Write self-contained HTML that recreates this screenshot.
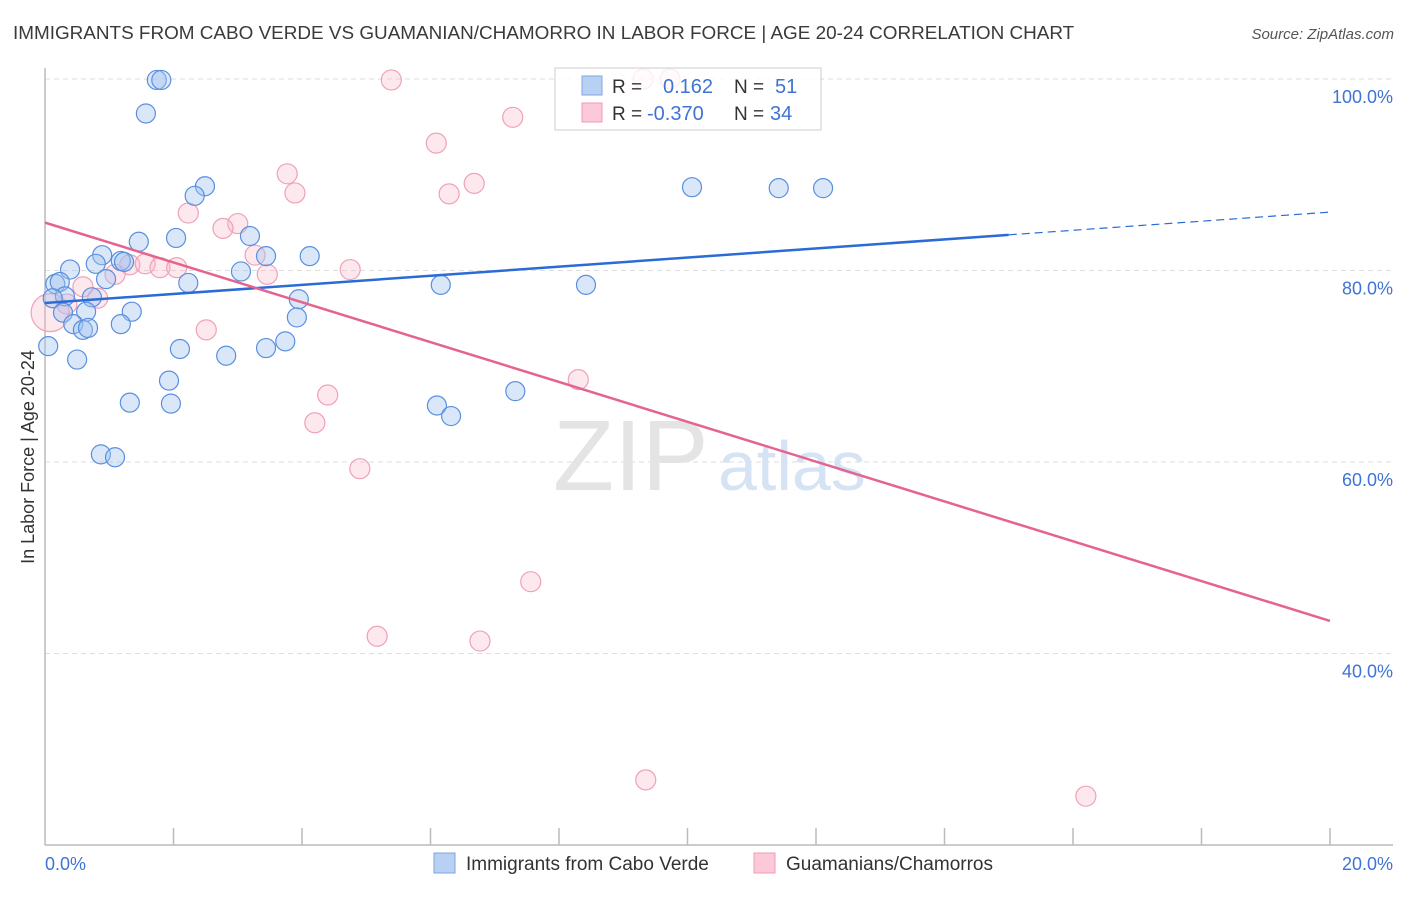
<!DOCTYPE html>
<html><head><meta charset="utf-8"><style>
body{margin:0;background:#fff;font-family:"Liberation Sans",sans-serif;}
svg text{font-family:"Liberation Sans",sans-serif;}
</style></head><body>
<svg id="chart" width="1406" height="892" viewBox="0 0 1406 892" xmlns="http://www.w3.org/2000/svg">
<text x="13" y="39" font-size="18.9" fill="#3a3a3a">IMMIGRANTS FROM CABO VERDE VS GUAMANIAN/CHAMORRO IN LABOR FORCE | AGE 20-24 CORRELATION CHART</text>
<text x="1394" y="39" font-size="15" fill="#555" text-anchor="end" font-style="italic">Source: ZipAtlas.com</text>
<g id="grid"></g>
<text x="553" y="490" font-size="100" fill="#e4e4e4" font-family="Liberation Serif">ZIP</text>
<text x="718" y="490" font-size="70" fill="#d6e3f5">atlas</text>
<line x1="45" y1="68" x2="45" y2="845" stroke="#bbb" stroke-width="1.5"/>
<line x1="45" y1="845" x2="1393" y2="845" stroke="#bbb" stroke-width="1.5"/>
<g id="ticks"></g>
<g id="pts"></g>
<g id="trends"></g>
<text transform="translate(34,457) rotate(-90)" font-size="18" fill="#333" text-anchor="middle">In Labor Force | Age 20-24</text>
<text x="45" y="870" font-size="18" fill="#3f73d4">0.0%</text>
<text x="1393" y="870" font-size="18" fill="#3f73d4" text-anchor="end">20.0%</text>
<g>
<rect x="555" y="68" width="266" height="62" fill="rgba(255,255,255,0.8)" stroke="#ccc"/>
<rect x="582" y="76" width="20" height="19" fill="#b8d1f3" stroke="#7ea6e0"/>
<rect x="582" y="103" width="20" height="19" fill="#fbc9d8" stroke="#f09ab5"/>
<text x="612" y="93" font-size="19" fill="#333">R =</text>
<text x="663" y="93" font-size="20" fill="#3f73d4">0.162</text>
<text x="734" y="93" font-size="19" fill="#333">N =</text>
<text x="775" y="93" font-size="20" fill="#3f73d4">51</text>
<text x="612" y="120" font-size="19" fill="#333">R =</text>
<text x="647" y="120" font-size="20" fill="#3f73d4">-0.370</text>
<text x="734" y="120" font-size="19" fill="#333">N =</text>
<text x="770" y="120" font-size="20" fill="#3f73d4">34</text>
</g>
<g>
<rect x="434" y="853" width="21" height="20" fill="#b8d1f3" stroke="#7ea6e0"/>
<text x="466" y="870" font-size="19" fill="#333">Immigrants from Cabo Verde</text>
<rect x="754" y="853" width="21" height="20" fill="#fbc9d8" stroke="#f09ab5"/>
<text x="786" y="870" font-size="19" fill="#333">Guamanians/Chamorros</text>
</g>
</svg>
<script>
const blueX=[1.74,1.81,1.57,2.49,2.33,10.07,11.42,12.11,1.46,2.04,3.19,0.89,0.79,1.18,1.23,4.12,3.44,0.39,3.05,0.16,0.23,0.95,2.23,6.16,8.42,0.31,0.12,0.73,3.95,0.64,0.28,1.35,3.92,0.44,1.18,0.59,0.67,3.74,0.05,2.10,3.44,2.82,0.50,1.93,1.32,1.96,6.10,6.32,7.32,0.87,1.09];
const blueY=[99.9,99.9,96.4,88.8,87.8,88.7,88.6,88.6,83.0,83.4,83.6,81.6,80.7,81.0,80.9,81.5,81.5,80.1,79.9,78.6,78.8,79.1,78.7,78.5,78.5,77.3,77.1,77.2,77.0,75.7,75.6,75.7,75.1,74.4,74.4,73.8,74.0,72.6,72.1,71.8,71.9,71.1,70.7,68.5,66.2,66.1,65.9,64.8,67.4,60.8,60.5];
const pinkX=[5.39,9.31,9.73,7.28,6.09,3.77,3.89,6.29,6.68,2.23,3.00,2.77,3.27,1.32,1.56,1.79,2.05,1.09,3.46,4.75,0.59,0.82,0.34,0.08,2.51,8.30,4.40,4.20,4.90,7.56,5.17,6.77,9.35,16.20];
const pinkY=[99.9,100,100,96.0,93.3,90.1,88.1,88.0,89.1,86.0,84.9,84.4,81.6,80.6,80.7,80.3,80.3,79.6,79.6,80.1,78.3,77.1,76.5,75.6,73.8,68.6,67.0,64.1,59.3,47.5,41.8,41.3,26.8,25.1];
const pinkR=[10,10,10,10,10,10,10,10,10,10,10,10,10,10,10,10,10,10,10,10,10,10,10,19,10,10,10,10,10,10,10,10,10,10];
const yTicks=[100,80,60,40];
const blueTrend=[76.6,86.1];
const pinkTrend=[85.0,43.4];
const blueSolidEnd=15.0;
const NS="http://www.w3.org/2000/svg";
function xs(v){return 45+v*64.25;}
function ys(v){return 79+(100-v)*9.575;}
function mk(tag,attrs,parent){const e=document.createElementNS(NS,tag);for(const k in attrs)e.setAttribute(k,attrs[k]);parent.appendChild(e);return e;}
const grid=document.getElementById('grid'),ticks=document.getElementById('ticks'),pts=document.getElementById('pts'),tr=document.getElementById('trends');
yTicks.forEach(t=>{
 const l=mk('line',{x1:45,x2:1393,y1:ys(t),y2:ys(t),stroke:'#ddd','stroke-dasharray':'5,4'},grid);
 
 
 const tx=mk('text',{x:1393,y:ys(t)+24,'font-size':18,fill:'#3f73d4','text-anchor':'end'},grid);
 tx.textContent=t.toFixed(1)+'%';
 
 
});
for(let i=1;i<=10;i++){
 const l=mk('line',{x1:xs(i*2),x2:xs(i*2),y1:828,y2:845,stroke:'#bbb','stroke-width':1.5},ticks);
 
 
}
pinkX.forEach((x,i)=>{
 const c=mk('circle',{cx:xs(x),cy:ys(pinkY[i]),r:pinkR[i],fill:'rgba(248,180,200,0.3)',stroke:'#f0a0b8','stroke-width':1.2},pts);
 
 
});
blueX.forEach((x,i)=>{
 const c=mk('circle',{cx:xs(x),cy:ys(blueY[i]),r:9.5,fill:'rgba(160,195,240,0.4)',stroke:'#5a8fe0','stroke-width':1.2},pts);
 
 
});
function by(v){return blueTrend[0]+(blueTrend[1]-blueTrend[0])*v/20;}
const bl=mk('line',{x1:xs(0),y1:ys(by(0)),x2:xs(blueSolidEnd),y2:ys(by(blueSolidEnd)),stroke:'#2a6bd6','stroke-width':2.5},tr);


const bd=mk('line',{x1:xs(blueSolidEnd),y1:ys(by(blueSolidEnd)),x2:xs(20),y2:ys(by(20)),stroke:'#2a6bd6','stroke-width':1.2,'stroke-dasharray':'8,5'},tr);


const pl=mk('line',{x1:xs(0),y1:ys(pinkTrend[0]),x2:xs(20),y2:ys(pinkTrend[1]),stroke:'#e5648e','stroke-width':2.5},tr);


</script>
</body></html>
